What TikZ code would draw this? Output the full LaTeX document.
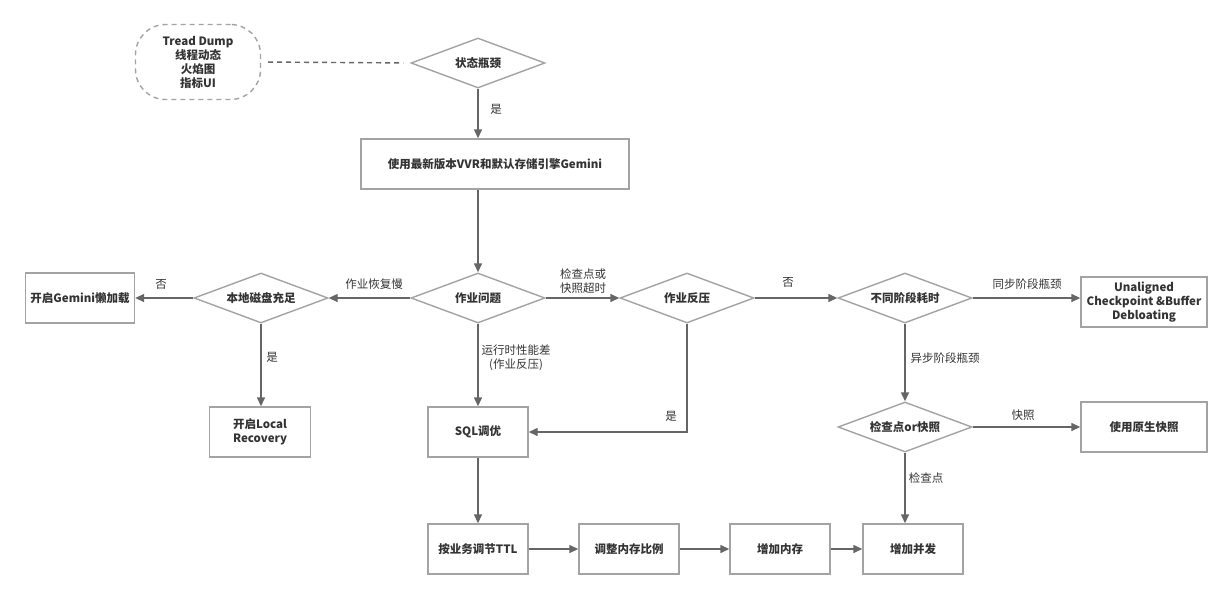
\documentclass[tikz,border=0pt]{standalone}
\usepackage{fontspec}
\setmainfont{Noto Sans CJK SC}
\usetikzlibrary{shapes.geometric,arrows.meta}
\definecolor{edgegray}{HTML}{A3A3A3}
\definecolor{arrowgray}{HTML}{666666}
\definecolor{textgray}{HTML}{333333}
\tikzset{
  box/.style={draw=edgegray, line width=1.4pt, fill=white, minimum width=100pt, minimum height=50pt,
    inner sep=2pt, align=center, text=textgray, font=\fontsize{11.5}{14}\selectfont\bfseries},
  decision/.style={diamond, draw=edgegray, line width=1.4pt, fill=white, minimum width=134pt, minimum height=50pt,
    aspect=2.7, inner sep=1pt, text=textgray, font=\fontsize{11.5}{14}\selectfont\bfseries},
  hint/.style={draw=edgegray, line width=1.4pt, dash pattern=on 5pt off 4pt, rounded corners=30pt,
    align=center, text=textgray, font=\fontsize{11.5}{14}\selectfont\bfseries},
  arr/.style={draw=arrowgray, line width=1.4pt, -{Triangle[length=9pt,width=8pt]}},
  link/.style={draw=arrowgray, line width=1.4pt, dash pattern=on 5pt off 4pt, shorten <=7pt, shorten >=7pt},
  lbl/.style={text=textgray, align=center, inner sep=0pt, font=\fontsize{11.5}{14}\selectfont}
}
\begin{document}
\begin{tikzpicture}[x=1pt,y=-1pt]
\useasboundingbox (0,0) rectangle (1224,600);
\node[hint, minimum width=125pt, minimum height=75pt] (tools) at (198,62) {Tread Dump\\线程动态\\火焰图\\指标UI};
\node[decision] (state) at (478,63) {状态瓶颈};
\node[box, minimum width=268pt] (engine) at (495,164) {使用最新版本VVR和默认存储引擎Gemini};
\node[decision] (job) at (478,298) {作业问题};
\node[decision] (disk) at (261,298) {本地磁盘充足};
\node[box, minimum width=109pt] (lazy) at (80,298) {开启Gemini懒加载};
\node[box, minimum width=101pt] (local) at (260,432) {开启Local\\Recovery};
\node[box] (sql) at (478,432) {SQL调优};
\node[decision] (bp) at (687,298) {作业反压};
\node[decision] (stage) at (905,298) {不同阶段耗时};
\node[box, minimum width=126pt] (unaligned) at (1144,302) {Unaligned\\Checkpoint \&Buffer\\Debloating};
\node[decision] (cpsnap) at (905,427) {检查点or快照};
\node[box, minimum width=126pt] (native) at (1144,427) {使用原生快照};
\node[box] (ttl) at (478,549) {按业务调节TTL};
\node[box] (ratio) at (629,549) {调整内存比例};
\node[box] (mem) at (780,549) {增加内存};
\node[box] (par) at (913,549) {增加并发};

\draw[link] (tools.east) -- (state.west);
\draw[arr] (state.south) -- (state.south |- engine.north);
\draw[arr] (job.north |- engine.south) -- (job.north);
\draw[arr] (job.west) -- (disk.east);
\draw[arr] (disk.west) -- (lazy.east);
\draw[arr] (disk.south) -- (disk.south |- local.north);
\draw[arr] (job.south) -- (sql.north);
\draw[arr] (job.east) -- (bp.west);
\draw[arr] (bp.south) |- (sql.east);
\draw[arr] (bp.east) -- (stage.west);
\draw[arr] (stage.east) -- (stage.east -| unaligned.west);
\draw[arr] (stage.south) -- (cpsnap.north);
\draw[arr] (cpsnap.east) -- (native.west);
\draw[arr] (cpsnap.south) -- (cpsnap.south |- par.north);
\draw[arr] (sql.south) -- (ttl.north);
\draw[arr] (ttl) -- (ratio);
\draw[arr] (ratio) -- (mem);
\draw[arr] (mem) -- (par);

\node[lbl] (yes1) at (496,109) {是};
\node[lbl] (no1) at (161,284) {否};
\node[lbl] (slow) at (374,284) {作业恢复慢};
\node[lbl] (yes2) at (272,357) {是};
\node[lbl] (timeout) at (583,281) {检查点或\\快照超时};
\node[lbl] (perf) at (516,358) {运行时性能差\\(作业反压)};
\node[lbl] (yes3) at (671,416) {是};
\node[lbl] (no2) at (788,282) {否};
\node[lbl] (sync) at (1027,284) {同步阶段瓶颈};
\node[lbl] (async) at (945,358) {异步阶段瓶颈};
\node[lbl] (snap) at (1023,415) {快照};
\node[lbl] (ckpt) at (926,478) {检查点};
\end{tikzpicture}
\end{document}
